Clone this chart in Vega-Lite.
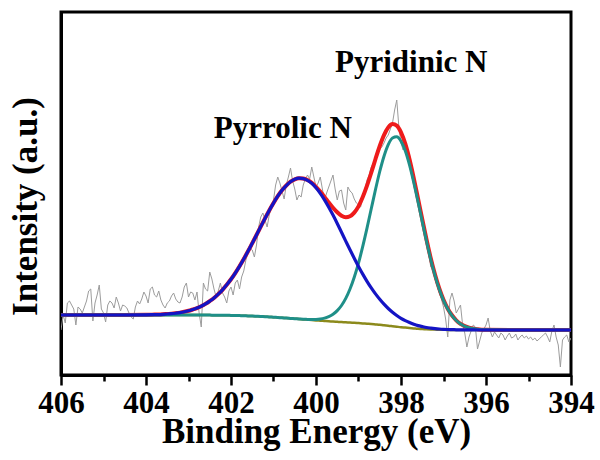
{
  "$schema": "https://vega.github.io/schema/vega-lite/v6.json",
  "width": 510,
  "height": 363,
  "autosize": "none",
  "padding": {"left": 61, "top": 12, "right": 29, "bottom": 85},
  "background": "white",
  "config": {
    "font": "Liberation Serif",
    "view": {"stroke": "black", "strokeWidth": 3},
    "axis": {"grid": false, "domainColor": "black", "domainWidth": 3, "titleColor": "black", "labelColor": "black", "titleFont": "Liberation Serif", "labelFont": "Liberation Serif", "titleFontWeight": "bold", "labelFontWeight": "bold"},
    "axisX": {
      "values": [394, 395, 396, 397, 398, 399, 400, 401, 402, 403, 404, 405, 406],
      "labelExpr": "datum.value % 2 === 0 ? datum.label : ''",
      "tickSize": {"condition": {"test": "datum.value % 2 === 0", "value": 10}, "value": 6},
      "tickWidth": 2.5,
      "tickColor": "black",
      "labelFontSize": 31,
      "labelPadding": 3,
      "labelFlush": false,
      "labelOverlap": false,
      "titleFontSize": 35,
      "titleBaseline": "alphabetic",
      "titleY": 67
    },
    "axisY": {
      "labels": false,
      "ticks": false,
      "titleFontSize": 35,
      "titleAngle": -90,
      "titleBaseline": "bottom",
      "titleAlign": "center",
      "titleX": -18,
      "titleY": 194
    }
  },
  "datasets": {
    "raw": [
      {"E":406.00,"I":45},{"E":405.95,"I":60},{"E":405.90,"I":52},{"E":405.85,"I":72},{"E":405.80,"I":74},{"E":405.75,"I":70},{"E":405.70,"I":66},{"E":405.65,"I":50},{"E":405.60,"I":68},{"E":405.55,"I":66},
      {"E":405.50,"I":62},{"E":405.45,"I":68},{"E":405.40,"I":74},{"E":405.35,"I":84},{"E":405.30,"I":86},{"E":405.25,"I":54},{"E":405.20,"I":72},{"E":405.15,"I":80},{"E":405.10,"I":90},{"E":405.05,"I":66},
      {"E":405.00,"I":62},{"E":404.95,"I":53},{"E":404.90,"I":70},{"E":404.85,"I":74},{"E":404.80,"I":72},{"E":404.75,"I":67},{"E":404.70,"I":78},{"E":404.65,"I":72},{"E":404.60,"I":64},{"E":404.55,"I":70},
      {"E":404.50,"I":69},{"E":404.45,"I":67},{"E":404.40,"I":62},{"E":404.35,"I":58},{"E":404.30,"I":56},{"E":404.25,"I":68},{"E":404.20,"I":74},{"E":404.15,"I":71},{"E":404.10,"I":76},{"E":404.05,"I":83},
      {"E":404.00,"I":79},{"E":403.95,"I":72},{"E":403.90,"I":86},{"E":403.85,"I":88},{"E":403.80,"I":80},{"E":403.75,"I":78},{"E":403.70,"I":84},{"E":403.65,"I":75},{"E":403.60,"I":70},{"E":403.55,"I":67},
      {"E":403.50,"I":72},{"E":403.45,"I":74},{"E":403.40,"I":79},{"E":403.35,"I":82},{"E":403.30,"I":76},{"E":403.25,"I":73},{"E":403.20,"I":72},{"E":403.15,"I":78},{"E":403.10,"I":88},{"E":403.05,"I":92},
      {"E":403.00,"I":78},{"E":402.95,"I":83},{"E":402.90,"I":82},{"E":402.85,"I":75},{"E":402.80,"I":83},{"E":402.75,"I":62},{"E":402.70,"I":48},{"E":402.65,"I":92},{"E":402.60,"I":86},{"E":402.55,"I":84},
      {"E":402.50,"I":103},{"E":402.45,"I":96},{"E":402.40,"I":86},{"E":402.35,"I":78},{"E":402.30,"I":84},{"E":402.25,"I":92},{"E":402.20,"I":82},{"E":402.15,"I":78},{"E":402.10,"I":72},{"E":402.05,"I":84},
      {"E":402.00,"I":88},{"E":401.95,"I":80},{"E":401.90,"I":92},{"E":401.85,"I":95},{"E":401.80,"I":86},{"E":401.75,"I":98},{"E":401.70,"I":104},{"E":401.65,"I":115},{"E":401.60,"I":122},{"E":401.55,"I":127},
      {"E":401.50,"I":125},{"E":401.45,"I":118},{"E":401.40,"I":130},{"E":401.35,"I":148},{"E":401.30,"I":158},{"E":401.25,"I":162},{"E":401.20,"I":155},{"E":401.15,"I":148},{"E":401.10,"I":160},{"E":401.05,"I":168},
      {"E":401.00,"I":175},{"E":400.95,"I":190},{"E":400.90,"I":198},{"E":400.85,"I":192},{"E":400.80,"I":184},{"E":400.75,"I":176},{"E":400.70,"I":190},{"E":400.65,"I":198},{"E":400.60,"I":207},{"E":400.55,"I":194},
      {"E":400.50,"I":186},{"E":400.45,"I":175},{"E":400.40,"I":180},{"E":400.35,"I":178},{"E":400.30,"I":190},{"E":400.25,"I":196},{"E":400.20,"I":200},{"E":400.15,"I":196},{"E":400.10,"I":208},{"E":400.05,"I":198},
      {"E":400.00,"I":188},{"E":399.95,"I":192},{"E":399.90,"I":198},{"E":399.85,"I":186},{"E":399.80,"I":175},{"E":399.75,"I":182},{"E":399.70,"I":188},{"E":399.65,"I":194},{"E":399.60,"I":200},{"E":399.55,"I":186},
      {"E":399.50,"I":175},{"E":399.45,"I":184},{"E":399.40,"I":185},{"E":399.35,"I":172},{"E":399.30,"I":165},{"E":399.25,"I":188},{"E":399.20,"I":184},{"E":399.15,"I":182},{"E":399.10,"I":176},{"E":399.05,"I":172},
      {"E":399.00,"I":170},{"E":398.95,"I":168},{"E":398.90,"I":178},{"E":398.85,"I":186},{"E":398.80,"I":195},{"E":398.75,"I":200},{"E":398.70,"I":208},{"E":398.65,"I":212},{"E":398.60,"I":218},{"E":398.55,"I":220},
      {"E":398.50,"I":226},{"E":398.45,"I":228},{"E":398.40,"I":232},{"E":398.35,"I":237},{"E":398.30,"I":240},{"E":398.25,"I":246},{"E":398.20,"I":252},{"E":398.15,"I":265},{"E":398.10,"I":275},{"E":398.05,"I":248},
      {"E":398.00,"I":232},{"E":397.95,"I":225},{"E":397.90,"I":235},{"E":397.85,"I":218},{"E":397.80,"I":220},{"E":397.75,"I":208},{"E":397.70,"I":200},{"E":397.65,"I":188},{"E":397.60,"I":178},{"E":397.55,"I":170},
      {"E":397.50,"I":158},{"E":397.45,"I":148},{"E":397.40,"I":134},{"E":397.35,"I":122},{"E":397.30,"I":108},{"E":397.25,"I":110},{"E":397.20,"I":96},{"E":397.15,"I":90},{"E":397.10,"I":82},{"E":397.05,"I":76},
      {"E":397.00,"I":68},{"E":396.95,"I":56},{"E":396.90,"I":38},{"E":396.85,"I":75},{"E":396.80,"I":82},{"E":396.75,"I":74},{"E":396.70,"I":62},{"E":396.65,"I":66},{"E":396.60,"I":70},{"E":396.55,"I":50},
      {"E":396.50,"I":42},{"E":396.45,"I":28},{"E":396.40,"I":38},{"E":396.35,"I":44},{"E":396.30,"I":50},{"E":396.25,"I":48},{"E":396.20,"I":26},{"E":396.15,"I":34},{"E":396.10,"I":42},{"E":396.05,"I":46},
      {"E":396.00,"I":50},{"E":395.95,"I":57},{"E":395.90,"I":44},{"E":395.85,"I":38},{"E":395.80,"I":43},{"E":395.75,"I":40},{"E":395.70,"I":37},{"E":395.65,"I":42},{"E":395.60,"I":40},{"E":395.55,"I":35},
      {"E":395.50,"I":39},{"E":395.45,"I":42},{"E":395.40,"I":37},{"E":395.35,"I":38},{"E":395.30,"I":41},{"E":395.25,"I":35},{"E":395.20,"I":38},{"E":395.15,"I":40},{"E":395.10,"I":37},{"E":395.05,"I":39},
      {"E":395.00,"I":36},{"E":394.95,"I":38},{"E":394.90,"I":35},{"E":394.85,"I":37},{"E":394.80,"I":34},{"E":394.75,"I":36},{"E":394.70,"I":38},{"E":394.65,"I":40},{"E":394.60,"I":42},{"E":394.55,"I":38},
      {"E":394.50,"I":33},{"E":394.45,"I":44},{"E":394.40,"I":50},{"E":394.35,"I":38},{"E":394.30,"I":30},{"E":394.25,"I":8},{"E":394.20,"I":35},{"E":394.15,"I":38},{"E":394.10,"I":40},{"E":394.05,"I":33},
      {"E":394.00,"I":37}
    ],
    "fit": [
      {"E":394.0,"bg":45.0,"pyrrolic":45.0,"pyridinic":45.0,"envelope":45.0},
      {"E":395.0,"bg":45.0,"pyrrolic":45.0,"pyridinic":45.0,"envelope":45.0},
      {"E":396.0,"bg":45.0,"pyrrolic":45.0,"pyridinic":45.2,"envelope":45.2},
      {"E":396.2,"bg":45.0,"pyrrolic":45.0,"pyridinic":45.8,"envelope":45.8},
      {"E":396.4,"bg":45.0,"pyrrolic":45.1,"pyridinic":47.3,"envelope":47.4},
      {"E":396.6,"bg":45.0,"pyrrolic":45.1,"pyridinic":51.1,"envelope":51.2},
      {"E":396.7,"bg":45.1,"pyrrolic":45.2,"pyridinic":54.5,"envelope":54.7},
      {"E":396.8,"bg":45.1,"pyrrolic":45.4,"pyridinic":59.4,"envelope":59.7},
      {"E":396.9,"bg":45.1,"pyrrolic":45.5,"pyridinic":65.9,"envelope":66.3},
      {"E":397.0,"bg":45.2,"pyrrolic":45.7,"pyridinic":74.7,"envelope":75.2},
      {"E":397.1,"bg":45.3,"pyrrolic":46.0,"pyridinic":85.8,"envelope":86.5},
      {"E":397.2,"bg":45.4,"pyrrolic":46.4,"pyridinic":99.4,"envelope":100.4},
      {"E":397.3,"bg":45.5,"pyrrolic":46.9,"pyridinic":115.4,"envelope":116.8},
      {"E":397.4,"bg":45.7,"pyrrolic":47.5,"pyridinic":133.7,"envelope":135.5},
      {"E":397.5,"bg":46.0,"pyrrolic":48.4,"pyridinic":153.4,"envelope":155.8},
      {"E":397.6,"bg":46.2,"pyrrolic":49.4,"pyridinic":173.3,"envelope":176.5},
      {"E":397.7,"bg":46.6,"pyrrolic":50.8,"pyridinic":192.7,"envelope":196.9},
      {"E":397.8,"bg":47.0,"pyrrolic":52.5,"pyridinic":210.2,"envelope":215.7},
      {"E":397.9,"bg":47.4,"pyrrolic":54.4,"pyridinic":224.3,"envelope":231.3},
      {"E":398.0,"bg":47.8,"pyrrolic":56.7,"pyridinic":233.8,"envelope":242.7},
      {"E":398.1,"bg":48.3,"pyrrolic":59.5,"pyridinic":238.2,"envelope":249.4},
      {"E":398.2,"bg":48.8,"pyrrolic":62.8,"pyridinic":237.0,"envelope":251.0},
      {"E":398.3,"bg":49.3,"pyrrolic":66.5,"pyridinic":230.4,"envelope":247.6},
      {"E":398.4,"bg":49.7,"pyrrolic":70.8,"pyridinic":218.8,"envelope":239.9},
      {"E":398.5,"bg":50.2,"pyrrolic":75.7,"pyridinic":203.5,"envelope":229.0},
      {"E":398.6,"bg":50.6,"pyrrolic":81.1,"pyridinic":185.5,"envelope":216.0},
      {"E":398.7,"bg":51.0,"pyrrolic":87.1,"pyridinic":166.2,"envelope":202.3},
      {"E":398.8,"bg":51.3,"pyrrolic":93.7,"pyridinic":146.9,"envelope":189.3},
      {"E":398.9,"bg":51.6,"pyrrolic":100.9,"pyridinic":128.6,"envelope":177.9},
      {"E":399.0,"bg":51.9,"pyrrolic":108.6,"pyridinic":111.9,"envelope":168.6},
      {"E":399.1,"bg":52.2,"pyrrolic":116.8,"pyridinic":97.8,"envelope":162.4},
      {"E":399.2,"bg":52.4,"pyrrolic":125.2,"pyridinic":86.0,"envelope":158.8},
      {"E":399.3,"bg":52.7,"pyrrolic":133.9,"pyridinic":76.6,"envelope":157.8},
      {"E":399.4,"bg":52.9,"pyrrolic":142.7,"pyridinic":69.5,"envelope":159.3},
      {"E":399.5,"bg":53.2,"pyrrolic":151.5,"pyridinic":64.4,"envelope":162.7},
      {"E":399.6,"bg":53.5,"pyrrolic":159.9,"pyridinic":60.8,"envelope":167.2},
      {"E":399.7,"bg":53.7,"pyrrolic":167.8,"pyridinic":58.4,"envelope":172.5},
      {"E":399.8,"bg":54.0,"pyrrolic":175.2,"pyridinic":56.9,"envelope":178.1},
      {"E":399.9,"bg":54.3,"pyrrolic":181.7,"pyridinic":56.0,"envelope":183.4},
      {"E":400.0,"bg":54.6,"pyrrolic":187.2,"pyridinic":55.6,"envelope":188.2},
      {"E":400.1,"bg":55.0,"pyrrolic":191.7,"pyridinic":55.5,"envelope":192.2},
      {"E":400.2,"bg":55.3,"pyrrolic":194.7,"pyridinic":55.6,"envelope":195.0},
      {"E":400.3,"bg":55.6,"pyrrolic":196.4,"pyridinic":55.7,"envelope":196.5},
      {"E":400.4,"bg":56.0,"pyrrolic":196.8,"pyridinic":56.0,"envelope":196.8},
      {"E":400.5,"bg":56.3,"pyrrolic":195.7,"pyridinic":56.3,"envelope":195.7},
      {"E":400.6,"bg":56.6,"pyrrolic":193.3,"pyridinic":56.6,"envelope":193.3},
      {"E":400.7,"bg":56.9,"pyrrolic":189.5,"pyridinic":56.9,"envelope":189.5},
      {"E":400.8,"bg":57.3,"pyrrolic":184.7,"pyridinic":57.3,"envelope":184.7},
      {"E":400.9,"bg":57.6,"pyrrolic":178.8,"pyridinic":57.6,"envelope":178.8},
      {"E":401.0,"bg":57.8,"pyrrolic":171.9,"pyridinic":57.8,"envelope":171.9},
      {"E":401.1,"bg":58.1,"pyrrolic":164.5,"pyridinic":58.1,"envelope":164.5},
      {"E":401.2,"bg":58.3,"pyrrolic":156.6,"pyridinic":58.3,"envelope":156.6},
      {"E":401.3,"bg":58.6,"pyrrolic":148.4,"pyridinic":58.6,"envelope":148.4},
      {"E":401.4,"bg":58.8,"pyrrolic":140.0,"pyridinic":58.8,"envelope":140.0},
      {"E":401.5,"bg":59.0,"pyrrolic":131.8,"pyridinic":59.0,"envelope":131.8},
      {"E":401.6,"bg":59.1,"pyrrolic":123.7,"pyridinic":59.1,"envelope":123.7},
      {"E":401.7,"bg":59.3,"pyrrolic":116.0,"pyridinic":59.3,"envelope":116.0},
      {"E":401.8,"bg":59.4,"pyrrolic":108.7,"pyridinic":59.4,"envelope":108.7},
      {"E":401.9,"bg":59.5,"pyrrolic":101.9,"pyridinic":59.5,"envelope":101.9},
      {"E":402.0,"bg":59.6,"pyrrolic":95.7,"pyridinic":59.6,"envelope":95.7},
      {"E":402.1,"bg":59.7,"pyrrolic":90.2,"pyridinic":59.7,"envelope":90.2},
      {"E":402.2,"bg":59.7,"pyrrolic":85.2,"pyridinic":59.7,"envelope":85.2},
      {"E":402.3,"bg":59.8,"pyrrolic":80.9,"pyridinic":59.8,"envelope":80.9},
      {"E":402.4,"bg":59.8,"pyrrolic":77.0,"pyridinic":59.8,"envelope":77.0},
      {"E":402.5,"bg":59.9,"pyrrolic":73.9,"pyridinic":59.9,"envelope":73.9},
      {"E":402.6,"bg":59.9,"pyrrolic":71.1,"pyridinic":59.9,"envelope":71.1},
      {"E":402.7,"bg":59.9,"pyrrolic":68.8,"pyridinic":59.9,"envelope":68.8},
      {"E":402.8,"bg":59.9,"pyrrolic":66.9,"pyridinic":59.9,"envelope":66.9},
      {"E":402.9,"bg":60.0,"pyrrolic":65.5,"pyridinic":60.0,"envelope":65.5},
      {"E":403.0,"bg":60.0,"pyrrolic":64.2,"pyridinic":60.0,"envelope":64.2},
      {"E":403.1,"bg":60.0,"pyrrolic":63.2,"pyridinic":60.0,"envelope":63.2},
      {"E":403.2,"bg":60.0,"pyrrolic":62.4,"pyridinic":60.0,"envelope":62.4},
      {"E":403.3,"bg":60.0,"pyrrolic":61.8,"pyridinic":60.0,"envelope":61.8},
      {"E":403.4,"bg":60.0,"pyrrolic":61.3,"pyridinic":60.0,"envelope":61.3},
      {"E":403.5,"bg":60.0,"pyrrolic":61.0,"pyridinic":60.0,"envelope":61.0},
      {"E":403.6,"bg":60.0,"pyrrolic":60.7,"pyridinic":60.0,"envelope":60.7},
      {"E":403.8,"bg":60.0,"pyrrolic":60.4,"pyridinic":60.0,"envelope":60.4},
      {"E":404.0,"bg":60.0,"pyrrolic":60.2,"pyridinic":60.0,"envelope":60.2},
      {"E":404.5,"bg":60.0,"pyrrolic":60.0,"pyridinic":60.0,"envelope":60.0},
      {"E":405.0,"bg":60.0,"pyrrolic":60.0,"pyridinic":60.0,"envelope":60.0},
      {"E":406.0,"bg":60.0,"pyrrolic":60.0,"pyridinic":60.0,"envelope":60.0}
    ],
    "labels": [
      {"E":397.76,"I":303,"label":"Pyridinic N"},
      {"E":400.78,"I":237,"label":"Pyrrolic N"}
    ]
  },
  "encoding": {
    "x": {
      "field": "E",
      "type": "quantitative",
      "title": "Binding Energy (eV)",
      "scale": {"domain": [394, 406], "reverse": true, "nice": false, "zero": false}
    }
  },
  "layer": [
    {
      "data": {"name": "raw"},
      "mark": {"type": "line", "color": "#9c9c9c", "strokeWidth": 1, "clip": true},
      "encoding": {
        "y": {"field": "I", "type": "quantitative", "title": "Intensity (a.u.)", "scale": {"domain": [0, 363], "nice": false, "zero": false}}
      }
    },
    {
      "data": {"name": "fit"},
      "mark": {"type": "line", "color": "#8c8a1c", "strokeWidth": 2.5, "interpolate": "monotone"},
      "encoding": {
        "y": {"field": "bg", "type": "quantitative", "title": "Intensity (a.u.)"}
      }
    },
    {
      "data": {"name": "fit"},
      "mark": {"type": "line", "color": "#ee1b1b", "strokeWidth": 4, "interpolate": "monotone"},
      "encoding": {
        "y": {"field": "envelope", "type": "quantitative", "title": "Intensity (a.u.)"}
      }
    },
    {
      "data": {"name": "fit"},
      "mark": {"type": "line", "color": "#1f8f88", "strokeWidth": 3, "interpolate": "monotone"},
      "encoding": {
        "y": {"field": "pyridinic", "type": "quantitative", "title": "Intensity (a.u.)"}
      }
    },
    {
      "data": {"name": "fit"},
      "mark": {"type": "line", "color": "#1414c4", "strokeWidth": 3.2, "interpolate": "monotone"},
      "encoding": {
        "y": {"field": "pyrrolic", "type": "quantitative", "title": "Intensity (a.u.)"}
      }
    },
    {
      "data": {"name": "labels"},
      "mark": {"type": "text", "font": "Liberation Serif", "fontWeight": "bold", "fontSize": 31, "color": "black", "align": "center", "baseline": "alphabetic"},
      "encoding": {
        "y": {"field": "I", "type": "quantitative", "title": "Intensity (a.u.)"},
        "text": {"field": "label"}
      }
    }
  ]
}
